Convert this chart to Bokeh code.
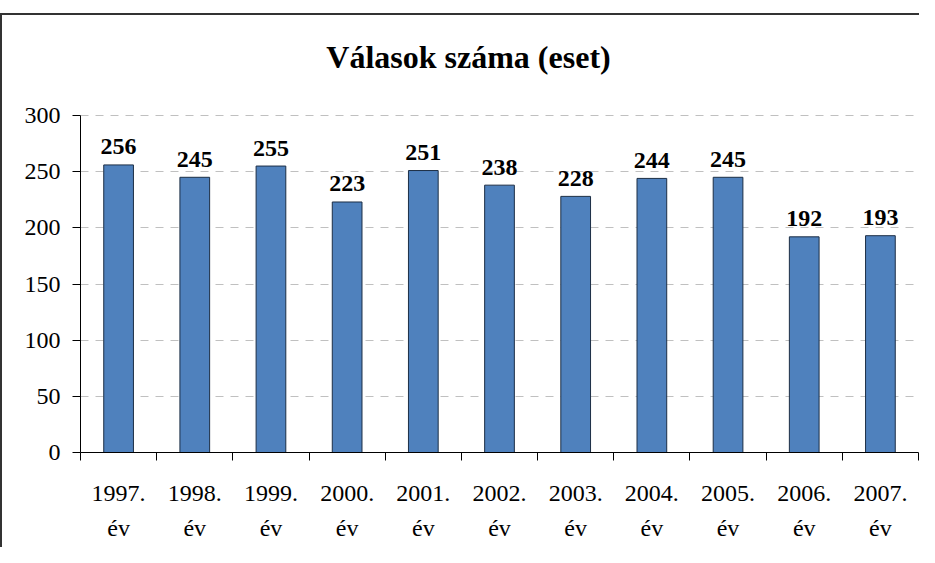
from bokeh.plotting import figure
from bokeh.models import Range1d, FixedTicker, Label, ColumnDataSource
from bokeh.core.properties import value
from bokeh.embed import file_html
from bokeh.resources import INLINE

years = ["1997.", "1998.", "1999.", "2000.", "2001.", "2002.", "2003.", "2004.", "2005.", "2006.", "2007."]
suffix = "év"
counts = [256, 245, 255, 223, 251, 238, 228, 244, 245, 192, 193]
y_ticks = [0, 50, 100, 150, 200, 250, 300]
title_text = "Válasok száma (eset)"

n = len(years)
centers = [i + 0.5 for i in range(n)]
bounds = list(range(n + 1))
y_max = y_ticks[-1]

FONT = "Liberation Serif"

# layout (pixels): value axis 0..300 spans 337 px, frame extends 100 px above it for the title
PLOT_H = 337
EXTRA_TOP = 100
px_per_unit = PLOT_H / y_max
y_top = y_max + EXTRA_TOP / px_per_unit

frame_styles = {
    "background": ("linear-gradient(#333333,#333333) 0 13px / 100% 2px no-repeat, "
                   "linear-gradient(#333333,#333333) 0 13px / 2px 100% no-repeat, white"),
}

p = figure(width=919, height=547, output_backend="svg", toolbar_location=None,
           x_range=Range1d(0, n), y_range=Range1d(0, y_top),
           min_border_left=80, min_border_right=1, min_border_top=15, min_border_bottom=95,
           styles=frame_styles)
p.outline_line_color = None
p.background_fill_color = "white"
p.border_fill_color = None

# chart title, centred over the chart box (which extends past the window on the right)
title_x = (476 - 88) / (838 / n)
title_y = y_max + 59 / px_per_unit
p.add_layout(Label(x=title_x, y=title_y, text=title_text, text_align="center",
                   text_baseline="alphabetic", text_font=FONT, text_font_size="32px",
                   text_font_style="bold", text_color="black"))

src = ColumnDataSource(dict(x=centers, top=counts, label=[str(c) for c in counts]))
p.vbar(x="x", top="top", bottom=0, width=0.39, source=src,
       fill_color="#4F81BD", line_color="#1C2E45", line_width=1)
p.text(x="x", y="top", text="label", source=src, y_offset=-18,
       text_align="center", text_baseline="alphabetic",
       text_font=value(FONT), text_font_size="24px", text_font_style="bold",
       text_color="black")

# x axis
xa = p.xaxis[0]
xa.ticker = FixedTicker(ticks=centers, minor_ticks=bounds)
xa.major_label_overrides = {c: f"{y}\n{suffix}" for c, y in zip(centers, years)}
xa.major_tick_out = 0
xa.major_tick_in = 0
xa.minor_tick_out = 8
xa.minor_tick_in = 0
xa.minor_tick_line_color = "black"
xa.axis_line_color = "black"
xa.major_label_text_font = FONT
xa.major_label_text_font_size = "24px"
xa.major_label_text_line_height = 1.38
xa.major_label_text_color = "black"
xa.major_label_standoff = 19

# y axis
ya = p.yaxis[0]
ya.ticker = FixedTicker(ticks=y_ticks)
ya.bounds = (0, y_max)
ya.major_tick_out = 8
ya.major_tick_in = 0
ya.minor_tick_line_color = None
ya.axis_line_color = "black"
ya.major_tick_line_color = "black"
ya.major_label_text_font = FONT
ya.major_label_text_font_size = "24px"
ya.major_label_text_color = "black"
ya.major_label_standoff = 12

p.xgrid.grid_line_color = None
p.ygrid.ticker = FixedTicker(ticks=y_ticks[1:])
p.ygrid.grid_line_color = "#C0C0C0"
p.ygrid.grid_line_dash = "8 7"
p.ygrid.grid_line_width = 1

open("out.html", "w").write(file_html(p, INLINE))
